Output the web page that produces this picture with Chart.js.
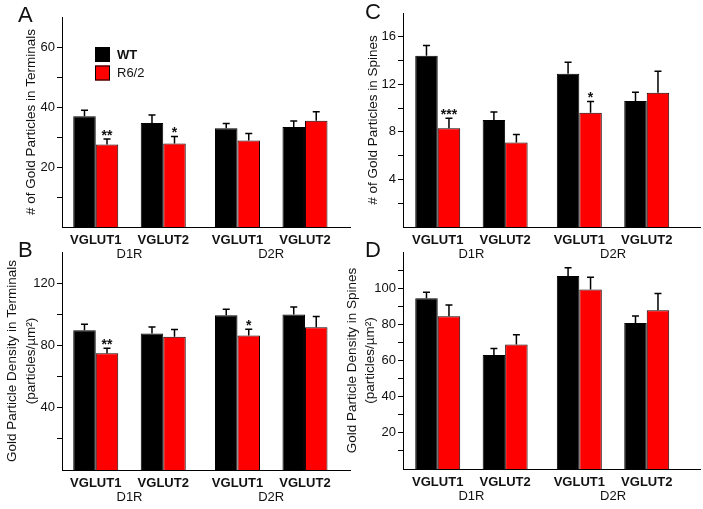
<!DOCTYPE html>
<html lang="en">
<head>
<meta charset="UTF-8">
<title>Gold particles</title>
<script src="https://cdn.jsdelivr.net/npm/chart.js@4.4.0/dist/chart.umd.min.js"></script>
<style>
*{margin:0;padding:0;box-sizing:border-box;}
body{width:703px;height:509px;background:#fff;position:relative;overflow:hidden;font-family:"Liberation Sans",Arial,sans-serif;}
canvas{position:absolute;}
.letter{position:absolute;font-size:22px;line-height:22px;color:#111;}
</style>
</head>
<body>
<canvas id="cA" width="352" height="262" style="left:0;top:0"></canvas>
<canvas id="cB" width="352" height="269" style="left:0;top:240px"></canvas>
<canvas id="cC" width="363" height="262" style="left:340px;top:0"></canvas>
<canvas id="cD" width="363" height="269" style="left:340px;top:240px"></canvas>
<div class="letter" style="left:18px;top:4px">A</div>
<div class="letter" style="left:18px;top:239px">B</div>
<div class="letter" style="left:365px;top:1px">C</div>
<div class="letter" style="left:365px;top:239px">D</div>
<script>
// 카테고리
const receptors = ['D1R', 'D2R'];
const transporters = ['VGLUT1', 'VGLUT2', 'VGLUT1', 'VGLUT2'];
const seriesNames = ['WT', 'R6/2'];

// A - 터미널 내 금입자 수
const termCountWT = [36.9, 34.7, 32.9, 33.3];
const termCountWTErr = [2.0, 2.6, 1.6, 2.0];
const termCountR6 = [27.5, 27.8, 28.8, 35.4];
const termCountR6Err = [1.8, 2.4, 2.4, 3.0];
const termCountSig = ['**', '*', '', ''];

// B - 터미널 내 밀도
const termDensWT = [89.8, 87.6, 99.4, 99.8];
const termDensWTErr = [3.8, 4.3, 3.9, 4.8];
const termDensR6 = [75.0, 85.5, 86.3, 91.7];
const termDensR6Err = [3.2, 4.7, 4.1, 6.8];
const termDensSig = ['**', '', '*', ''];

// C - 스파인 내 금입자 수
const spineCountWT = [14.4, 9.0, 12.9, 10.6];
const spineCountWTErr = [0.87, 0.67, 0.96, 0.73];
const spineCountR6 = [8.3, 7.1, 9.6, 11.3];
const spineCountR6Err = [0.84, 0.67, 0.96, 1.8];
const spineCountSig = ['***', '', '*', ''];

// D - 스파인 내 밀도
const spineDensWT = [94.4, 63.0, 106.7, 80.8];
const spineDensWTErr = [3.3, 3.7, 4.6, 3.8];
const spineDensR6 = [84.5, 68.9, 99.3, 87.8];
const spineDensR6Err = [6.2, 5.3, 6.8, 9.2];
const spineDensSig = ['', '', '', ''];

// 막대 묶음 위치 (D1R/D2R 사이가 조금 더 벌어짐)
const slotX = [0, 1, 2.1, 3.1];

Chart.defaults.font.family = '"Liberation Sans", Arial, sans-serif';
Chart.defaults.color = '#111';

function errorBars(errs, sig) {
    return {
        id: 'errorBars',
        afterDatasetsDraw(chart) {
            const ctx = chart.ctx, ys = chart.scales.y;
            chart.data.datasets.forEach(function(ds, di) {
                const meta = chart.getDatasetMeta(di);
                meta.data.forEach(function(bar, i) {
                    const top = ys.getPixelForValue(ds.data[i].y + errs[di][i]);
                    ctx.save();
                    ctx.strokeStyle = '#000';
                    ctx.lineWidth = 1.5;
                    ctx.beginPath();
                    ctx.moveTo(bar.x, bar.y);
                    ctx.lineTo(bar.x, top);
                    ctx.moveTo(bar.x - 3.5, top);
                    ctx.lineTo(bar.x + 3.5, top);
                    ctx.stroke();
                    if (di == 1 && sig[i]) {
                        ctx.fillStyle = '#111';
                        ctx.font = 'bold 14px "Liberation Sans", Arial, sans-serif';
                        ctx.textAlign = 'center';
                        ctx.textBaseline = 'alphabetic';
                        ctx.fillText(sig[i], bar.x, top + 1);
                    }
                    ctx.restore();
                });
            });
        }
    };
}

// D1R / D2R 아래 라벨
const groupLabels = {
    id: 'groupLabels',
    afterDraw(chart) {
        const ctx = chart.ctx, xs = chart.scales.x;
        ctx.save();
        ctx.fillStyle = '#111';
        ctx.font = '13px "Liberation Sans", Arial, sans-serif';
        ctx.textAlign = 'center';
        ctx.textBaseline = 'middle';
        receptors.forEach(function(r, i) {
            const cx = (xs.getPixelForValue(slotX[i * 2]) + xs.getPixelForValue(slotX[i * 2 + 1])) / 2;
            ctx.fillText(r, cx, chart.chartArea.bottom + 27);
        });
        ctx.restore();
    }
};

// 패널 A 범례
const boxLegend = {
    id: 'boxLegend',
    afterDraw(chart) {
        const ctx = chart.ctx, a = chart.chartArea;
        ctx.save();
        chart.data.datasets.forEach(function(ds, i) {
            const y = a.top + 30 + i * 18.5;
            ctx.fillStyle = ds.backgroundColor;
            ctx.fillRect(a.left + 33, y, 15, 15);
            ctx.strokeStyle = '#000';
            ctx.lineWidth = 1;
            ctx.strokeRect(a.left + 33.5, y + 0.5, 14, 14);
            ctx.fillStyle = '#111';
            ctx.font = (i == 0 ? 'bold ' : '') + '13px "Liberation Sans", Arial, sans-serif';
            ctx.textBaseline = 'middle';
            ctx.fillText(ds.label, a.left + 55, y + 8);
        });
        ctx.restore();
    }
};

function drawPanel(id, o) {
    const pts = function(arr) { return arr.map(function(v, i) { return {x: slotX[i], y: v}; }); };
    const plugins = [errorBars(o.errs, o.sig), groupLabels];
    if (o.legend) plugins.push(boxLegend);
    new Chart(document.getElementById(id), {
        type: 'bar',
        plugins: plugins,
        data: {
            datasets: [
                {label: seriesNames[0], data: pts(o.wt), backgroundColor: '#000', borderColor: '#000', borderWidth: 1},
                {label: seriesNames[1], data: pts(o.r6), backgroundColor: '#ff0000', borderColor: '#1a0000', borderWidth: 1}
            ]
        },
        options: {
            responsive: false,
            animation: false,
            events: [],
            categoryPercentage: 0.667,
            barPercentage: 1,
            layout: {padding: {left: 0, top: o.padTop, right: o.padRight, bottom: 0}},
            plugins: {legend: {display: false}, tooltip: {enabled: false}},
            scales: {
                x: {
                    type: 'linear',
                    offset: false,
                    min: o.xMin, max: o.xMax,
                    grid: {display: false, drawTicks: false},
                    border: {display: true, color: '#000', width: 1},
                    afterBuildTicks: function(s) { s.ticks = slotX.map(function(v) { return {value: v}; }); },
                    afterFit: function(s) { s.height = o.xH; },
                    ticks: {
                        autoSkip: false, maxRotation: 0, padding: 6,
                        font: {size: 13, weight: 'bold'},
                        callback: function(v, i) { return transporters[i]; }
                    }
                },
                y: {
                    min: 0, max: o.yMax,
                    grid: {drawOnChartArea: false, drawTicks: true, tickLength: 5, tickColor: '#000', lineWidth: 1},
                    border: {display: true, color: '#000', width: 1},
                    afterBuildTicks: function(s) { s.ticks = s.ticks.filter(function(t) { return t.value > 0 && t.value < o.yMax; }); },
                    afterFit: function(s) { s.width = o.yW; },
                    ticks: {
                        stepSize: o.step, padding: 2,
                        font: {size: 13},
                        callback: function(v) { return v % o.labelStep == 0 ? v : ''; }
                    },
                    title: {
                        display: true, text: o.title,
                        font: {size: 13.5, lineHeight: o.titleLH},
                        padding: {top: o.titlePad, bottom: 0}
                    }
                }
            }
        }
    });
}

drawPanel('cA', {
    wt: termCountWT, r6: termCountR6, errs: [termCountWTErr, termCountR6Err], sig: termCountSig,
    yMax: 70, step: 10, labelStep: 20, title: '# of Gold Particles in Terminals', titleLH: 1.2, titlePad: 23,
    yW: 62, padTop: 17, padRight: 2, xH: 35, xMin: -0.5, xMax: 3.767, legend: true
});
drawPanel('cB', {
    wt: termDensWT, r6: termDensR6, errs: [termDensWTErr, termDensR6Err], sig: termDensSig,
    yMax: 140, step: 20, labelStep: 40,
    title: ['Gold Particle Density in Terminals', '(particles/\u00b5m\u00b2)'], titleLH: 1.45, titlePad: 2,
    yW: 62, padTop: 12, padRight: 2, xH: 39, xMin: -0.5, xMax: 3.767
});
drawPanel('cC', {
    wt: spineCountWT, r6: spineCountR6, errs: [spineCountWTErr, spineCountR6Err], sig: spineCountSig,
    yMax: 18, step: 2, labelStep: 4, title: '# of Gold Particles in Spines', titleLH: 1.2, titlePad: 25,
    yW: 63, padTop: 13, padRight: 3, xH: 35, xMin: -0.515, xMax: 3.89
});
drawPanel('cD', {
    wt: spineDensWT, r6: spineDensR6, errs: [spineDensWTErr, spineDensR6Err], sig: spineDensSig,
    yMax: 120, step: 10, labelStep: 20,
    title: ['Gold Particle Density in Spines', '(particles/\u00b5m\u00b2)'], titleLH: 1.35, titlePad: 3,
    yW: 63, padTop: 12, padRight: 3, xH: 40, xMin: -0.515, xMax: 3.89
});
</script>
</body>
</html>
